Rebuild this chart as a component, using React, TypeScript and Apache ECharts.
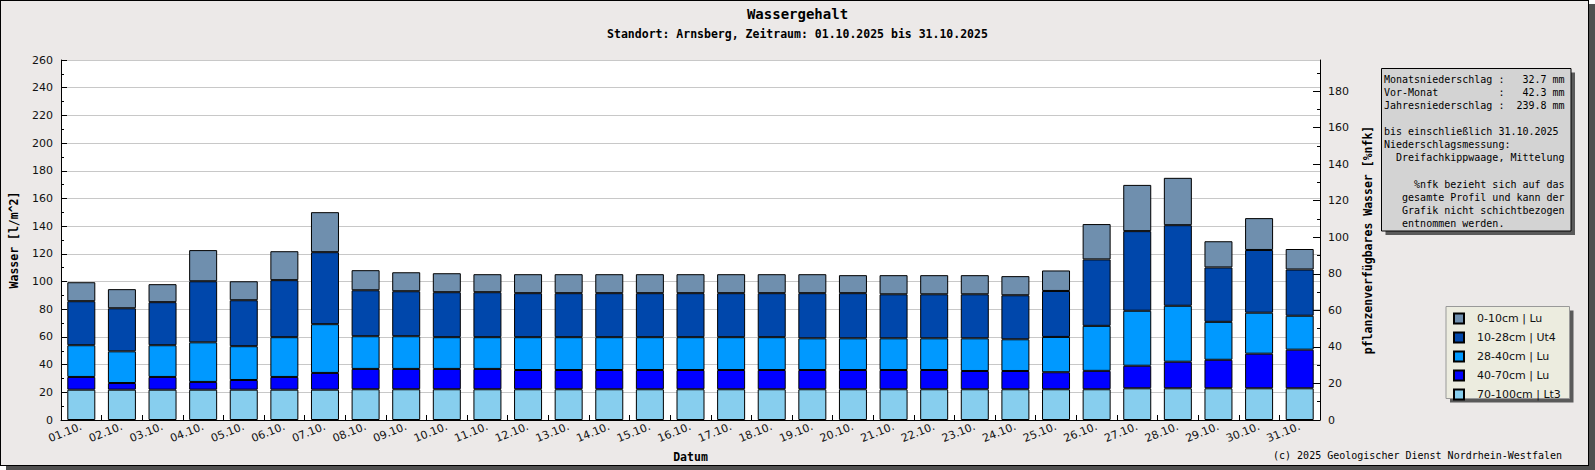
import React, { useEffect, useRef } from 'react';
import * as echarts from 'echarts';

const categories = [
  '01.10.', '02.10.', '03.10.', '04.10.', '05.10.', '06.10.', '07.10.', '08.10.', '09.10.', '10.10.',
  '11.10.', '12.10.', '13.10.', '14.10.', '15.10.', '16.10.', '17.10.', '18.10.', '19.10.', '20.10.',
  '21.10.', '22.10.', '23.10.', '24.10.', '25.10.', '26.10.', '27.10.', '28.10.', '29.10.', '30.10.', '31.10.',
];

const layer0to10 = [13.7, 13.8, 13.0, 22.5, 13.7, 20.9, 28.9, 14.5, 13.7, 13.7, 13.0, 13.7, 13.7, 13.7, 13.7, 13.7, 13.7, 13.7, 13.7, 13.0, 13.8, 13.8, 13.8, 13.8, 14.8, 25.5, 33.4, 34.2, 18.9, 23.0, 14.8];
const layer10to28 = [31.8, 31.1, 31.1, 44.1, 33.2, 41.2, 52.0, 33.2, 32.5, 32.5, 32.5, 31.8, 31.8, 31.8, 31.8, 31.8, 31.8, 31.8, 32.6, 32.6, 31.8, 31.8, 31.8, 31.8, 33.2, 48.0, 57.5, 58.2, 39.3, 45.3, 33.4];
const layer28to40 = [22.9, 22.9, 22.9, 28.6, 24.4, 28.7, 35.2, 23.6, 23.6, 22.9, 22.9, 23.7, 23.7, 23.7, 23.7, 23.7, 23.7, 23.7, 22.9, 22.9, 22.9, 22.9, 23.6, 22.9, 25.5, 32.5, 39.7, 40.4, 27.4, 29.6, 24.5];
const layer40to70 = [9.2, 4.8, 9.2, 5.6, 7.0, 9.2, 12.1, 14.7, 14.7, 14.7, 14.7, 13.9, 13.9, 13.9, 13.9, 13.9, 13.9, 13.9, 13.9, 13.9, 13.9, 13.9, 13.2, 13.2, 12.3, 13.3, 16.3, 19.2, 20.6, 25.0, 27.9];
const layer70to100 = [21.9, 21.9, 21.9, 21.9, 21.9, 21.9, 21.9, 22.2, 22.2, 22.2, 22.2, 22.2, 22.2, 22.2, 22.2, 22.2, 22.2, 22.2, 22.2, 22.2, 22.2, 22.2, 22.2, 22.2, 22.2, 22.2, 22.9, 22.9, 22.9, 22.9, 22.9];

const seriesNames = ['0-10cm | Lu', '10-28cm | Ut4', '28-40cm | Lu', '40-70cm | Lu', '70-100cm | Lt3'];
const seriesColors = ['#6f8fae', '#0047ab', '#0099ff', '#0000ff', '#87ceee'];

const leftTicks = [0, 20, 40, 60, 80, 100, 120, 140, 160, 180, 200, 220, 240, 260];
const rightTicks = [0, 20, 40, 60, 80, 100, 120, 140, 160, 180];

const infoLines = [
  'Monatsniederschlag :   32.7 mm',
  'Vor-Monat          :   42.3 mm',
  'Jahresniederschlag :  239.8 mm',
  '',
  'bis einschließlich 31.10.2025',
  'Niederschlagsmessung:',
  '  Dreifachkippwaage, Mittelung',
  '',
  '     %nfk bezieht sich auf das',
  '   gesamte Profil und kann der',
  '   Grafik nicht schichtbezogen',
  '   entnommen werden.',
];

const SANS = "'DejaVu Sans', sans-serif";
const MONO = "'DejaVu Sans Mono', monospace";

export default function App() {
  const ref = useRef<HTMLDivElement>(null);

  useEffect(() => {
    document.body.style.margin = '0';
    const chart = echarts.init(ref.current as HTMLDivElement, null, { renderer: 'svg' });

    const layers = [layer0to10, layer10to28, layer28to40, layer40to70, layer70to100];
    const series: any[] = [];
    for (let k = layers.length - 1; k >= 0; k--) {
      series.push({
        name: seriesNames[k],
        type: 'bar',
        stack: 'total',
        yAxisIndex: 0,
        barWidth: 28,
        data: layers[k],
        itemStyle: { color: seriesColors[k], borderColor: '#000', borderWidth: 1 },
        emphasis: { disabled: true },
      });
    }

    const option: any = {
      animation: false,
      backgroundColor: 'transparent',
      title: [
        {
          text: 'Wassergehalt',
          left: 'center',
          top: 7,
          padding: 0,
          textStyle: { fontFamily: MONO, fontWeight: 'bold', fontSize: 14, color: '#000' },
        },
        {
          text: 'Standort: Arnsberg, Zeitraum: 01.10.2025 bis 31.10.2025',
          left: 'center',
          top: 27.5,
          padding: 0,
          textStyle: { fontFamily: MONO, fontWeight: 'bold', fontSize: 11.5, color: '#000' },
        },
      ],
      grid: {
        left: 60,
        right: 275,
        top: 60,
        bottom: 50,
        show: true,
        backgroundColor: '#ffffff',
        borderWidth: 0,
      },
      legend: {
        orient: 'vertical',
        left: 1453,
        top: 312.5,
        padding: 0,
        itemWidth: 10,
        itemHeight: 10,
        itemGap: 7,
        icon: 'rect',
        selectedMode: false,
        z: 10,
        data: seriesNames,
        textStyle: { fontFamily: SANS, fontSize: 11, color: '#111', padding: [0, 0, 0, 8] },
      },
      xAxis: {
        type: 'category',
        data: categories,
        name: 'Datum',
        nameLocation: 'middle',
        nameGap: 31,
        nameTextStyle: { fontFamily: MONO, fontWeight: 'bold', fontSize: 11.5, color: '#000' },
        axisLine: { show: true, lineStyle: { color: '#000', width: 1 } },
        axisTick: { show: true, inside: true, length: 5, alignWithLabel: false, lineStyle: { color: '#000' } },
        axisLabel: { interval: 0, rotate: 22, fontFamily: SANS, fontSize: 11, color: '#111', margin: 6 },
        splitLine: { show: false },
      },
      yAxis: [
        {
          type: 'value',
          position: 'left',
          min: 0,
          max: 260,
          interval: 20,
          name: 'Wasser [l/m^2]',
          nameLocation: 'middle',
          nameRotate: 90,
          nameGap: 41,
          nameTextStyle: { fontFamily: MONO, fontWeight: 'bold', fontSize: 11.5, color: '#000' },
          axisLine: { show: true, lineStyle: { color: '#000', width: 1 } },
          axisTick: { show: true, inside: true, length: 6, lineStyle: { color: '#000' }, customValues: leftTicks },
          minorTick: { show: true, splitNumber: 2, length: 3, lineStyle: { color: '#000' } },
          axisLabel: { fontFamily: SANS, fontSize: 11, color: '#111', margin: 8, customValues: leftTicks },
          splitLine: { show: true, lineStyle: { color: '#c8c8c8', width: 1 } },
        },
        {
          type: 'value',
          position: 'right',
          min: 0,
          max: 197,
          interval: 20,
          name: 'pflanzenverfügbares Wasser [%nfk]',
          nameLocation: 'middle',
          nameRotate: 90,
          nameGap: 42,
          nameTextStyle: { fontFamily: MONO, fontWeight: 'bold', fontSize: 11.5, color: '#000' },
          axisLine: { show: true, lineStyle: { color: '#000', width: 1 } },
          axisTick: { show: true, inside: true, length: 7, lineStyle: { color: '#000' }, customValues: rightTicks },
          minorTick: { show: true, splitNumber: 2, length: 3, lineStyle: { color: '#000' } },
          axisLabel: { fontFamily: SANS, fontSize: 11, color: '#111', margin: 8, customValues: rightTicks },
          splitLine: { show: false },
        },
      ],
      graphic: [
        { type: 'rect', z: 1, shape: { x: 1385.5, y: 72.5, width: 189.5, height: 162.5 }, style: { fill: '#5a5a5a' } },
        { type: 'rect', z: 2, shape: { x: 1381.5, y: 68.5, width: 189.5, height: 162.5 }, style: { fill: '#d3d3d3', stroke: '#000', lineWidth: 1 } },
        {
          type: 'text',
          z: 3,
          x: 1384,
          y: 72.8,
          style: {
            text: infoLines.join('\n'),
            font: `10px ${MONO}`,
            lineHeight: 13.1,
            fill: '#000',
            verticalAlign: 'top',
            align: 'left',
          },
        },
        { type: 'rect', z: 1, shape: { x: 1450, y: 310.5, width: 123.5, height: 92 }, style: { fill: '#5a5a5a' } },
        { type: 'rect', z: 2, shape: { x: 1446, y: 306.5, width: 123.5, height: 92 }, style: { fill: '#ececdf', stroke: '#999', lineWidth: 1 } },
        {
          type: 'text',
          z: 3,
          x: 1562,
          y: 455,
          style: {
            text: '(c) 2025 Geologischer Dienst Nordrhein-Westfalen',
            font: `10px ${MONO}`,
            fill: '#000',
            align: 'right',
            verticalAlign: 'middle',
          },
        },
      ],
      series,
    };

    chart.setOption(option);
    return () => chart.dispose();
  }, []);

  return (
    <div style={{ position: 'relative', width: 1595, height: 470 }}>
      <div
        style={{
          position: 'absolute',
          left: 0,
          top: 0,
          width: 1587,
          height: 464,
          background: '#ece9e8',
          border: '1px solid #000',
          boxShadow: '6px 4px 0 #505050',
        }}
      />
      <div ref={ref} style={{ position: 'absolute', left: 0, top: 0, width: 1595, height: 470 }} />
    </div>
  );
}
